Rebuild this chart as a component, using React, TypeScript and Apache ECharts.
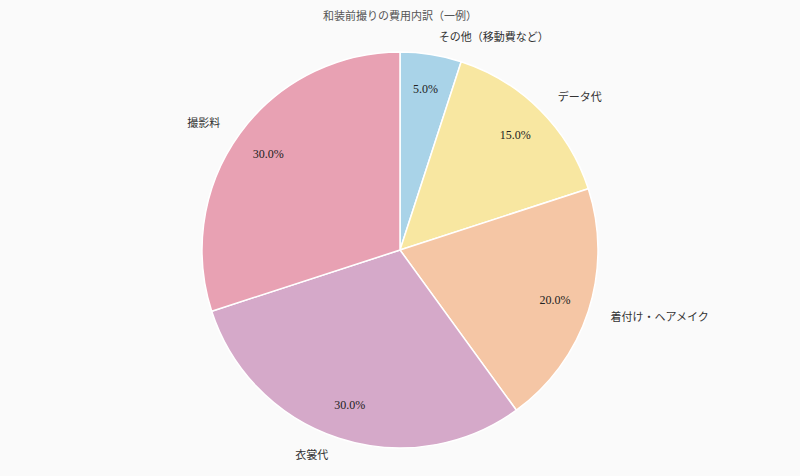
import React, { useEffect, useRef } from 'react';
import * as echarts from 'echarts';

const titleText = '和装前撮りの費用内訳（一例）';
const categories = ['その他（移動費など）', 'データ代', '着付け・ヘアメイク', '衣裳代', '撮影料'];
const values = [5, 15, 20, 30, 30];
const colors = ['#A9D3E8', '#F8E7A1', '#F5C6A5', '#D5A9C9', '#E8A1B3'];

const FONT = '"Liberation Serif", "DejaVu Serif", "Noto Sans CJK JP", serif';

const App = () => {
  const chartRef = useRef<HTMLDivElement | null>(null);

  useEffect(() => {
    if (!chartRef.current) return;
    const chart = echarts.init(chartRef.current, null, { renderer: 'svg' });

    const pieData = categories.map((name, i) => ({
      name,
      value: values[i],
      itemStyle: { color: colors[i] }
    }));

    chart.setOption({
      animation: false,
      backgroundColor: '#FAFAFA',
      title: {
        text: titleText,
        left: 'center',
        top: 5,
        textStyle: { fontFamily: FONT, fontSize: 11, fontWeight: 'normal', color: '#555' }
      },
      series: [
        {
          // 外側の名前ラベル
          type: 'pie',
          center: [400, 250],
          radius: 198,
          startAngle: 90,
          clockwise: true,
          data: pieData,
          itemStyle: { borderColor: '#fff', borderWidth: 1.5 },
          label: {
            show: true,
            position: 'outside',
            formatter: '{b}',
            fontFamily: FONT,
            fontSize: 11,
            color: '#333'
          },
          labelLine: { show: false, length: 18, length2: 0 },
          silent: true
        },
        {
          // 内側のパーセントラベル
          type: 'pie',
          center: [400, 250],
          radius: [122, 198],
          startAngle: 90,
          clockwise: true,
          data: categories.map((name, i) => ({ name, value: values[i] })),
          itemStyle: { color: 'transparent', borderWidth: 0 },
          label: {
            show: true,
            position: 'inside',
            formatter: (p: any) => `${p.percent.toFixed(1)}%`,
            fontFamily: FONT,
            fontSize: 12,
            color: '#222'
          },
          labelLine: { show: false },
          silent: true
        }
      ]
    });

    return () => {
      chart.dispose();
    };
  }, []);

  return <div ref={chartRef} style={{ width: 800, height: 476, position: 'absolute', left: 0, top: 0 }} />;
};

export default App;
